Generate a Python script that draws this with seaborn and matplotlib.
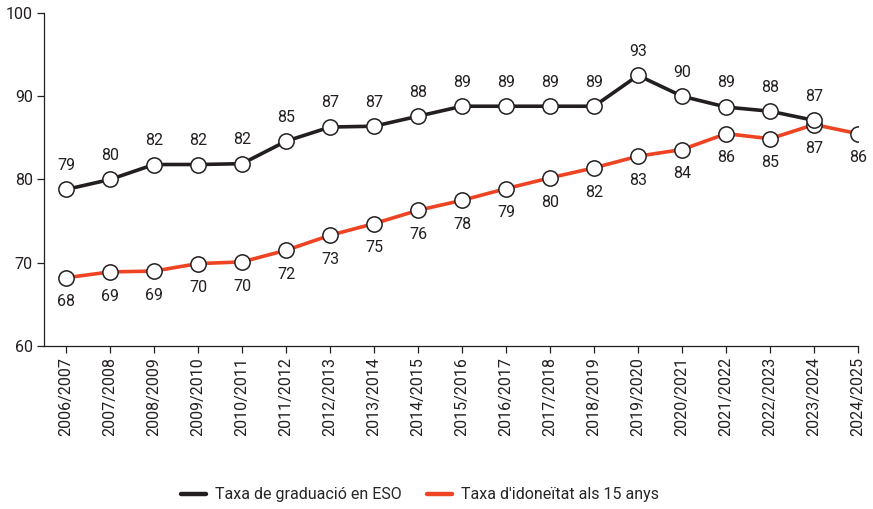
import matplotlib
matplotlib.use("Agg")
import matplotlib.pyplot as plt
from matplotlib.lines import Line2D
import seaborn as sns
import pandas as pd

years = ["2006/2007", "2007/2008", "2008/2009", "2009/2010", "2010/2011", "2011/2012",
         "2012/2013", "2013/2014", "2014/2015", "2015/2016", "2016/2017", "2017/2018",
         "2018/2019", "2019/2020", "2020/2021", "2021/2022", "2022/2023", "2023/2024",
         "2024/2025"]
grad = [78.8, 80.0, 81.8, 81.8, 81.9, 84.6, 86.3, 86.4, 87.6, 88.8, 88.8, 88.8,
        88.8, 92.5, 90.0, 88.7, 88.2, 87.1]
idon = [68.2, 68.9, 69.0, 69.9, 70.1, 71.5, 73.3, 74.7, 76.3, 77.5, 78.9, 80.2,
        81.4, 82.8, 83.6, 85.5, 84.9, 86.6, 85.5]
grad_lbl = [79, 80, 82, 82, 82, 85, 87, 87, 88, 89, 89, 89, 89, 93, 90, 89, 88, 87]
idon_lbl = [68, 69, 69, 70, 70, 72, 73, 75, 76, 78, 79, 80, 82, 83, 84, 86, 85, 87, 86]
series_names = ["Taxa de graduació en ESO", "Taxa d'idoneïtat als 15 anys"]
colors = ["#231f20", "#ee4423"]

sns.set_theme(style="white")
plt.rcParams["font.family"] = ["Roboto", "DejaVu Sans"]

df = pd.concat([
    pd.DataFrame({"x": list(range(len(grad))), "y": grad, "s": series_names[0]}),
    pd.DataFrame({"x": list(range(len(idon))), "y": idon, "s": series_names[1]}),
])

fig = plt.figure(figsize=(8.73, 5.09), dpi=100)
ax = fig.add_axes([0.0504, 0.3202, 0.9326, 0.6543])

# draw red series first so the black series sits on top
sns.lineplot(data=df, x="x", y="y", hue="s",
             palette={series_names[0]: colors[0], series_names[1]: colors[1]},
             hue_order=[series_names[1], series_names[0]],
             linewidth=2.6, marker="o", markersize=11, markerfacecolor="white",
             markeredgecolor="#231f20", markeredgewidth=1.1, legend=False, ax=ax,
             sort=False)

for i, (v, l) in enumerate(zip(grad, grad_lbl)):
    ax.annotate(str(l), (i, v), xytext=(0, 12), textcoords="offset points",
                ha="center", va="bottom", fontsize=11.5, color="#231f20")
for i, (v, l) in enumerate(zip(idon, idon_lbl)):
    ax.annotate(str(l), (i, v), xytext=(0, -12), textcoords="offset points",
                ha="center", va="top", fontsize=11.5, color="#231f20")

ax.set_xlim(-0.5, 18.0)
ax.set_ylim(60, 100)
ax.set_yticks([60, 70, 80, 90, 100])
ax.set_xticks(range(len(years)))
ax.set_xticklabels(years, rotation=90)
ax.set_xlabel("")
ax.set_ylabel("")
for sp in ["top", "right"]:
    ax.spines[sp].set_visible(False)
for sp in ["left", "bottom"]:
    ax.spines[sp].set_color("#231f20")
    ax.spines[sp].set_linewidth(0.9)
ax.tick_params(axis="both", which="both", direction="out", length=5, width=0.9,
               color="#231f20", labelcolor="#231f20", labelsize=11.5,
               left=True, bottom=True, pad=3)

handles = [Line2D([0], [0], color=c, linewidth=3.2) for c in colors]
fig.legend(handles, series_names, loc="center", bbox_to_anchor=(0.481, 0.028),
           ncol=2, frameon=False, fontsize=11.5, handlelength=1.6,
           columnspacing=1.55, handletextpad=0.55)

fig.savefig("out.png", dpi=100)
